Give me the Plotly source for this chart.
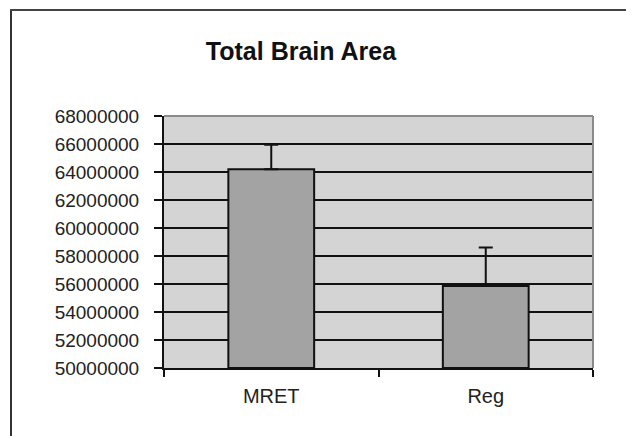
import plotly.graph_objects as go

categories = ["MRET", "Reg"]
means = [64200000, 55850000]
err_plus = [1750000, 2750000]
y_ticks = [50000000 + 2000000 * i for i in range(10)]

# the page body adds an 8px margin, so the figure is sized/offset to compensate
OFF = 8
W, H = 634 - OFF, 436 - OFF
L, R, T, B = 164 - OFF, 41, 116 - OFF, 68
PW, PH = W - L - R, H - T - B

def px_x(x):
    return (x - OFF - L) / PW

def px_y(y):
    return (H - B - (y - OFF)) / PH

fig = go.Figure()
fig.add_trace(go.Bar(
    x=categories, y=[m - y_ticks[0] for m in means], base=y_ticks[0],
    marker=dict(color="#a3a3a3", line=dict(color="#111111", width=2)),
    error_y=dict(type="data", symmetric=False, array=err_plus,
                 arrayminus=[0, 0], color="#111111", thickness=2, width=7),
    width=0.40,
))

shapes = []
# outer frame
shapes.append(dict(type="line", xref="paper", yref="paper", x0=px_x(11), x1=px_x(11),
                   y0=px_y(10), y1=px_y(450), line=dict(color="#333333", width=2)))
shapes.append(dict(type="line", xref="paper", yref="paper", x0=px_x(10), x1=px_x(640),
                   y0=px_y(10), y1=px_y(10), line=dict(color="#444444", width=2)))
shapes.append(dict(type="line", xref="paper", yref="paper", x0=px_x(633), x1=px_x(633),
                   y0=px_y(11), y1=px_y(450), line=dict(color="#dddddd", width=1)))
# plot area top/right gray border
shapes.append(dict(type="line", xref="paper", yref="paper", x0=0, x1=1, y0=1, y1=1,
                   line=dict(color="#8a8a8a", width=2)))
shapes.append(dict(type="line", xref="paper", yref="paper", x0=1, x1=1, y0=0, y1=1,
                   line=dict(color="#8a8a8a", width=2)))

fig.update_layout(
    width=W, height=H,
    margin=dict(l=L, r=R, t=T, b=B),
    paper_bgcolor="white",
    plot_bgcolor="#d4d4d4",
    showlegend=False,
    title=dict(text="<b>Total Brain Area</b>", x=(301 - OFF) / W, xref="container", xanchor="center",
               y=1 - (51 - OFF) / H, yref="container", yanchor="middle",
               font=dict(family="Liberation Sans", size=25, color="#111111")),
    shapes=shapes,
    bargap=0.6,
)
fig.update_yaxes(
    range=[y_ticks[0], y_ticks[-1]], tickvals=y_ticks,
    ticktext=[str(v) for v in y_ticks],
    showgrid=True, gridcolor="#111111", gridwidth=2,
    showline=True, linecolor="#111111", linewidth=2,
    ticks="outside", ticklen=8, tickcolor="#111111", tickwidth=2,
    zeroline=False,
    tickfont=dict(family="Liberation Sans", size=19, color="#222222"),
    ticklabelstandoff=11,
)
fig.update_xaxes(
    showline=True, linecolor="#111111", linewidth=2,
    ticks="outside", tickson="boundaries", ticklen=7, tickcolor="#111111", tickwidth=2,
    showgrid=False,
    tickfont=dict(family="Liberation Sans", size=20, color="#222222"),
    ticklabelstandoff=9,
)

fig.write_html("out.html")
